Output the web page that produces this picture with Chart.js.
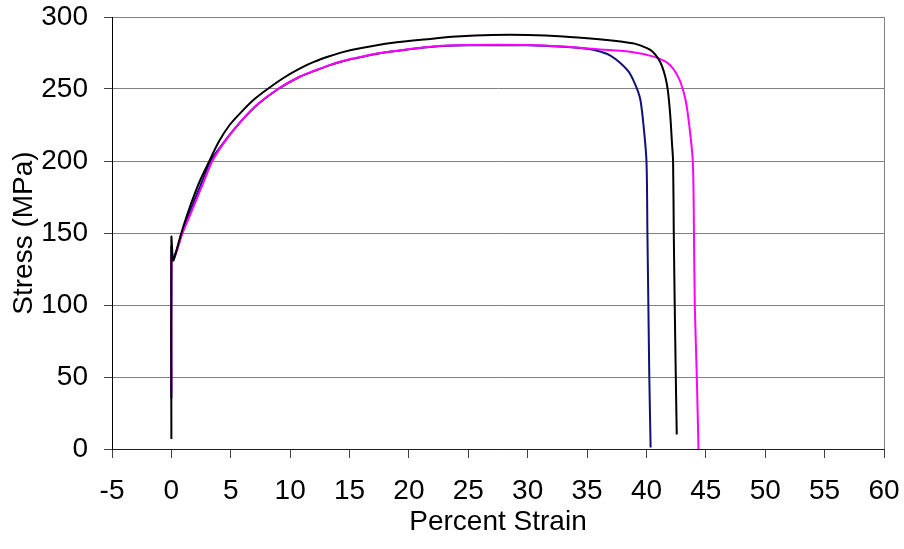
<!DOCTYPE html>
<html>
<head>
<meta charset="utf-8">
<script src="https://cdn.jsdelivr.net/npm/chart.js@4/dist/chart.umd.min.js"></script>
<style>
  html, body { margin: 0; padding: 0; background: #fff; }
  #wrap { width: 904px; height: 549px; }
</style>
</head>
<body>
<div id="wrap"><canvas id="c" width="904" height="549"></canvas></div>
<script>
// Tensile test curves: percent strain vs. stress (MPa) for three specimens
const blackStrain = [0, 0, 0.15, 0.4, 0.8, 1.3, 2.0, 2.5, 3.2, 4.0, 4.9, 6.0, 7.0, 8.1, 9.5, 11, 12, 13.3, 14.5, 15.9, 18.5, 21.8, 24, 27, 30, 33, 36, 38, 39, 40, 40.5, 41, 41.3, 41.6, 41.8, 42.0, 42.15, 42.24, 42.3, 42.38, 42.47, 42.55];
const blackStress = [7, 147, 131, 137, 149, 162, 178, 188, 200, 213.5, 225, 235, 243, 250, 258, 265, 268.8, 272.7, 275.8, 278.3, 281.9, 284.8, 286.4, 287.5, 287.5, 286.5, 284.5, 282.8, 281.5, 278.5, 276, 271, 266, 258, 249, 232, 212, 200, 150, 100, 50, 10];

const magentaStrain = [0, 0, 0.1, 0.4, 0.9, 1.5, 2.1, 2.7, 3.45, 4.5, 5.7, 7.2, 8.96, 10.8, 12, 13.3, 14.5, 15.9, 17, 18.5, 21.8, 25, 30, 33, 36.1, 38.5, 40.6, 41.5, 42.0, 42.5, 42.9, 43.3, 43.6, 43.9, 44.0, 44.07, 44.24, 44.38];
const magentaStress = [40, 135, 131, 136, 149, 161, 173, 185, 200, 213.5, 226, 239, 250, 258.5, 262.5, 266.6, 269.6, 272.2, 274.2, 276, 279.4, 280.5, 280.5, 279.5, 277.5, 276, 272.5, 269.5, 266.5, 261, 254, 242, 225, 200, 150, 100, 50, 0];

const navyStrain = [0, 0, 0.12, 0.4, 0.85, 1.4, 2.0, 2.6, 3.3, 4.6, 5.8, 7.3, 9.0, 10.8, 12, 13.3, 14.5, 15.9, 17, 18.5, 21.8, 25, 30, 33, 35, 36.1, 37, 37.8, 38.5, 38.9, 39.3, 39.5, 39.75, 40.0, 40.08, 40.16, 40.24, 40.35];
const navyStress = [35, 140, 132, 137, 149, 161, 174, 186, 200, 215, 227, 239.5, 250, 258.5, 262.4, 266.4, 269.4, 272, 274, 276, 279.2, 280.3, 280.3, 279.3, 278, 276, 273, 268, 262, 256, 248, 242, 225, 200, 150, 100, 50, 1];

// Axis ranges and tick spacing
const xMin = -5, xMax = 60, xStep = 5;
const yMin = 0, yMax = 300, yStep = 50;

const toPoints = (xs, ys) => xs.map((x, i) => ({ x: x, y: ys[i] }));

const FONT = "'Liberation Sans', Arial, sans-serif";

// Gray frame line on the right side of the plot area
const rightFrame = {
  id: 'rightFrame',
  beforeDatasetsDraw(chart) {
    const { ctx, chartArea } = chart;
    ctx.save();
    ctx.strokeStyle = '#808080';
    ctx.lineWidth = 1;
    ctx.beginPath();
    const x = Math.round(chartArea.right) + 0.5;
    ctx.moveTo(x, chartArea.top);
    ctx.lineTo(x, chartArea.bottom);
    ctx.stroke();
    ctx.restore();
  }
};

// Fixed scale sizes; edge padding is handled by the layout padding
function fixScale(size) {
  return function (scale) {
    if (scale.isHorizontal()) scale.height = size; else scale.width = size;
    scale.paddingTop = 0;
    scale.paddingBottom = 0;
    scale.paddingLeft = 0;
    scale.paddingRight = 0;
  };
}

new Chart(document.getElementById('c'), {
  type: 'line',
  data: {
    datasets: [
      { data: toPoints(blackStrain, blackStress), borderColor: '#000000', order: 0 },
      { data: toPoints(magentaStrain, magentaStress), borderColor: '#ff00ff', order: 1 },
      { data: toPoints(navyStrain, navyStress), borderColor: '#10107a', order: 2 }
    ]
  },
  options: {
    responsive: false,
    animation: false,
    events: [],
    parsing: false,
    elements: {
      line: { borderWidth: 2, tension: 0.3, fill: false },
      point: { radius: 0 }
    },
    layout: { padding: { left: 0, top: 17, right: 20, bottom: 0 } },
    plugins: { legend: { display: false }, tooltip: { enabled: false } },
    scales: {
      x: {
        type: 'linear',
        min: xMin, max: xMax,
        ticks: { stepSize: xStep, color: '#000', padding: 16, font: { family: FONT, size: 28 } },
        grid: { drawOnChartArea: false, drawTicks: true, tickLength: 9, color: '#404040', tickColor: '#404040' },
        border: { display: true, color: '#202020', width: 1 },
        title: { display: true, text: 'Percent Strain', color: '#000', font: { family: FONT, size: 28, lineHeight: 1.2 }, padding: { top: 0, bottom: 10 } },
        afterFit: fixScale(100)
      },
      y: {
        type: 'linear',
        min: yMin, max: yMax,
        ticks: { stepSize: yStep, color: '#000', padding: 16, font: { family: FONT, size: 28 } },
        grid: {
          drawTicks: true, tickLength: 8,
          color: (c) => (c.tick && c.tick.value === 0 ? '#202020' : '#808080'),
          tickColor: '#404040',
          lineWidth: 1
        },
        border: { display: true, color: '#000', width: 1 },
        title: { display: true, text: 'Stress (MPa)', color: '#000', font: { family: FONT, size: 28, lineHeight: 1.2 }, padding: { top: 7, bottom: 0 } },
        afterFit: fixScale(112)
      }
    }
  },
  plugins: [rightFrame]
});
</script>
</body>
</html>
